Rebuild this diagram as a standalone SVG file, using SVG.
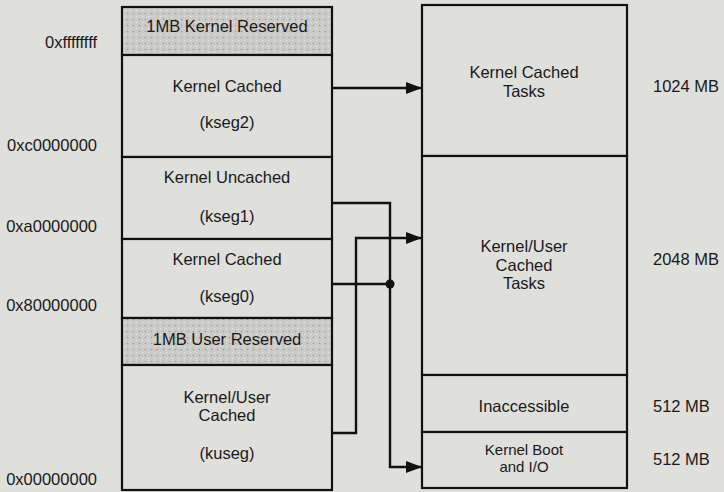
<svg xmlns="http://www.w3.org/2000/svg" width="724" height="492" viewBox="0 0 724 492">
<defs>
<pattern id="stipple" width="6" height="6" patternUnits="userSpaceOnUse">
<rect width="6" height="6" fill="#cbcbc7"/>
<circle cx="1.5" cy="1.5" r="0.8" fill="#9a9a96"/>
<circle cx="4.5" cy="4.5" r="0.7" fill="#e8e8e4"/>
</pattern>
<marker id="arr" markerWidth="16" markerHeight="12" refX="16" refY="6" orient="auto" markerUnits="userSpaceOnUse">
<path d="M0,0 L16,6 L0,12 Z" fill="#111"/>
</marker>
</defs>
<style>
.box{fill:#dfdfdb;stroke:#111;stroke-width:2.2}
.res{fill:url(#stipple);stroke:#111;stroke-width:2.2}
text{font-family:"Liberation Sans",Arial,sans-serif;font-size:16.5px;fill:#1a1a1a}
.c{text-anchor:middle}
.r{text-anchor:end}
.s{font-size:15px}
.line{fill:none;stroke:#111;stroke-width:2.4}
</style>
<rect width="724" height="492" fill="#dfdfdb"/>

<g id="addresses">
<text class="r" x="97" y="48">0xffffffff</text>
<text class="r" x="97" y="151">0xc0000000</text>
<text class="r" x="97" y="232">0xa0000000</text>
<text class="r" x="97" y="311">0x80000000</text>
<text class="r" x="97" y="485">0x00000000</text>
</g>

<g id="kernel-reserved">
<rect class="res" x="122" y="7" width="210" height="48"/>
<text class="c" x="227" y="32">1MB Kernel Reserved</text>
</g>
<g id="kseg2">
<rect class="box" x="122" y="55" width="210" height="102"/>
<text class="c" x="227" y="92">Kernel Cached</text>
<text class="c" x="227" y="128">(kseg2)</text>
</g>
<g id="kseg1">
<rect class="box" x="122" y="157" width="210" height="82"/>
<text class="c" x="227" y="183">Kernel Uncached</text>
<text class="c" x="227" y="222">(kseg1)</text>
</g>
<g id="kseg0">
<rect class="box" x="122" y="239" width="210" height="79"/>
<text class="c" x="227" y="265">Kernel Cached</text>
<text class="c" x="227" y="302">(kseg0)</text>
</g>
<g id="user-reserved">
<rect class="res" x="122" y="318" width="210" height="47"/>
<text class="c" x="227" y="345">1MB User Reserved</text>
</g>
<g id="kuseg">
<rect class="box" x="122" y="365" width="210" height="125"/>
<text class="c" x="227" y="403">Kernel/User</text>
<text class="c" x="227" y="421">Cached</text>
<text class="c" x="227" y="459">(kuseg)</text>
</g>

<g id="phys-kernel-cached">
<rect class="box" x="422" y="5" width="205" height="151"/>
<text class="c" x="524" y="78">Kernel Cached</text>
<text class="c" x="524" y="97">Tasks</text>
<text x="653" y="92">1024 MB</text>
</g>
<g id="phys-user-cached">
<rect class="box" x="422" y="156" width="205" height="219"/>
<text class="c" x="524" y="252">Kernel/User</text>
<text class="c" x="524" y="271">Cached</text>
<text class="c" x="524" y="289">Tasks</text>
<text x="653" y="265">2048 MB</text>
</g>
<g id="phys-inaccessible">
<rect class="box" x="422" y="375" width="205" height="57"/>
<text class="c" x="524" y="412">Inaccessible</text>
<text x="653" y="412">512 MB</text>
</g>
<g id="phys-boot">
<rect class="box" x="422" y="432" width="205" height="56"/>
<text class="c s" x="524" y="455">Kernel Boot</text>
<text class="c s" x="524" y="472">and I/O</text>
<text x="653" y="465">512 MB</text>
</g>

<g id="connectors">
<path class="line" d="M332,88 L422,88" marker-end="url(#arr)"/>
<path class="line" d="M332,203 L390,203 L390,467 L422,467" marker-end="url(#arr)"/>
<path class="line" d="M332,284 L390,284"/>
<circle cx="390" cy="284" r="4.5" fill="#111"/>
<path class="line" d="M332,433 L356,433 L356,238 L422,238" marker-end="url(#arr)"/>
</g>
</svg>
